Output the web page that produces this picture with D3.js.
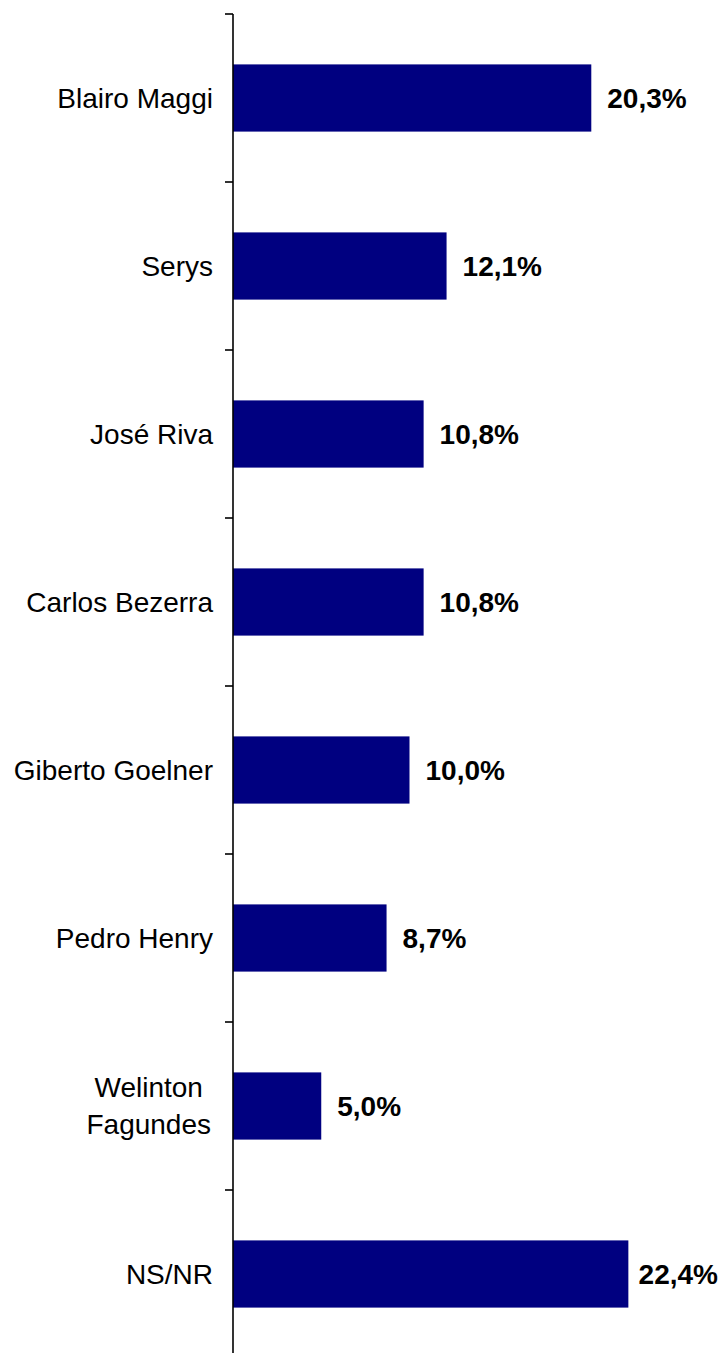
<!DOCTYPE html>
<html>
<head>
<meta charset="utf-8">
<script src="https://cdn.jsdelivr.net/npm/d3@7/dist/d3.min.js"></script>
<style>
  html, body { margin: 0; padding: 0; background: #fff; }
  svg { display: block; }
</style>
</head>
<body>
<script>
const categories = ["Blairo Maggi", "Serys", "José Riva", "Carlos Bezerra", "Giberto Goelner", "Pedro Henry", "Welinton Fagundes", "NS/NR"];
const values = [20.3, 12.1, 10.8, 10.8, 10.0, 8.7, 5.0, 22.4];
const valueLabels = ["20,3%", "12,1%", "10,8%", "10,8%", "10,0%", "8,7%", "5,0%", "22,4%"];

const W = 721, H = 1353;
const svg = d3.select("body").append("svg").attr("width", W).attr("height", H);

const axisX = 233;
const y = d3.scaleBand().domain(categories).range([14, 1358]).paddingInner(0.6).paddingOuter(0.3);
const x = d3.scaleLinear().domain([0, 25]).range([axisX, axisX + 25 * 17.65]);

const font = "'Liberation Sans', Arial, sans-serif";

// bars
svg.selectAll("rect.bar").data(categories).enter().append("rect")
  .attr("class", "bar")
  .attr("x", x(0))
  .attr("y", d => y(d))
  .attr("width", (d, i) => x(values[i]) - x(0))
  .attr("height", y.bandwidth())
  .attr("fill", "#000080");

// axis line and ticks at band boundaries
const boundaries = d3.range(categories.length + 1).map(i => y.range()[0] + i * y.step());
svg.append("line")
  .attr("x1", axisX).attr("x2", axisX)
  .attr("y1", y.range()[0]).attr("y2", H)
  .attr("stroke", "#000").attr("stroke-width", 1.6);
svg.selectAll("line.tick").data(boundaries).enter().append("line")
  .attr("class", "tick")
  .attr("x1", axisX - 8).attr("x2", axisX)
  .attr("y1", d => d).attr("y2", d => d)
  .attr("stroke", "#000").attr("stroke-width", 1.6);

// category labels
const catG = svg.selectAll("text.cat").data(categories).enter().append("text")
  .attr("class", "cat")
  .attr("text-anchor", "end")
  .attr("font-family", font)
  .attr("font-size", 28)
  .attr("fill", "#000");

catG.each(function(d) {
  const t = d3.select(this);
  const cy = y(d) + y.bandwidth() / 2;
  t.text(d);
  const maxW = 208;
  if (this.getComputedTextLength() > maxW) {
    const words = d.split(" ");
    const lines = [words.slice(0, -1).join(" "), words[words.length - 1]];
    // measure widest line
    let widest = 0;
    lines.forEach(ln => { t.text(ln); widest = Math.max(widest, this.getComputedTextLength()); });
    t.text(null).attr("text-anchor", "middle");
    const cx = axisX - 22 - widest / 2;
    const lh = 37;
    lines.forEach((ln, k) => {
      t.append("tspan")
        .attr("x", cx)
        .attr("y", cy + (k - (lines.length - 1) / 2) * lh)
        .attr("dy", "0.35em")
        .text(ln);
    });
  } else {
    t.attr("x", axisX - 20).attr("y", cy).attr("dy", "0.35em");
  }
});

// value labels
svg.selectAll("text.val").data(categories).enter().append("text")
  .attr("class", "val")
  .attr("y", d => y(d) + y.bandwidth() / 2)
  .attr("dy", "0.35em")
  .attr("font-family", font)
  .attr("font-size", 28)
  .attr("font-weight", "bold")
  .attr("fill", "#000")
  .text((d, i) => valueLabels[i])
  .each(function(d, i) {
    const w = this.getComputedTextLength();
    const px = Math.min(x(values[i]) + 16, W - 3 - w);
    d3.select(this).attr("x", Math.max(px, x(values[i]) + 7));
  });
</script>
</body>
</html>
